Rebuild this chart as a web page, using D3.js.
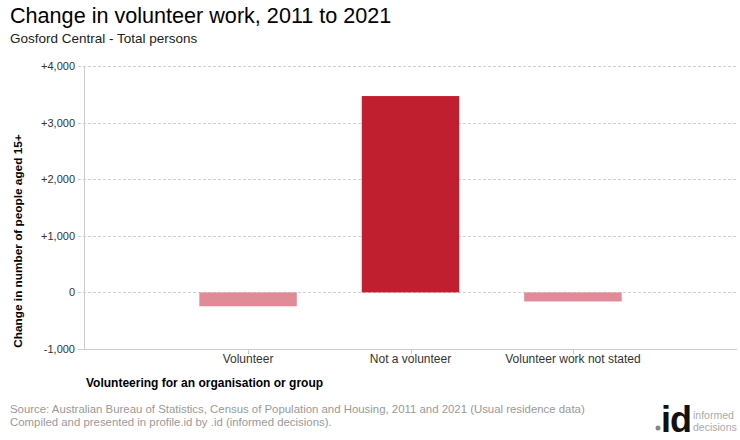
<!DOCTYPE html>
<html><head><meta charset="utf-8">
<script src="https://cdn.jsdelivr.net/npm/d3@7/dist/d3.min.js"></script>
<style>body{margin:0;background:#fff;} text{font-family:"Liberation Sans",Arial,sans-serif;}</style>
</head><body>
<svg id="c" width="740" height="440"></svg>
<script>
const categories = ["Volunteer", "Not a volunteer", "Volunteer work not stated"];
const changes = [-245, 3469, -160];
const barColors = ["#e18a98", "#c01f2f", "#e18a98"];
const yTicks = [-1000, 0, 1000, 2000, 3000, 4000];
const yTickLabels = ["-1,000", "0", "+1,000", "+2,000", "+3,000", "+4,000"];

const svg = d3.select("#c");
const pL = 84, pR = 737, pT = 66, pB = 349;

const x = d3.scaleBand().domain(categories).range([pL, pR]).paddingInner(0.4).paddingOuter(0.71);
const y = d3.scaleLinear().domain([-1000, 4000]).range([pB, pT]);

// gridlines
svg.append("g").selectAll("line").data(yTicks.filter(d => d !== -1000)).join("line")
  .attr("x1", pL - 6).attr("x2", pR).attr("y1", d => Math.round(y(d)) + 0.5).attr("y2", d => Math.round(y(d)) + 0.5)
  .attr("stroke", "#cfcfcf").attr("stroke-dasharray", "3,2");
svg.append("line").attr("x1", pL - 6).attr("x2", pL).attr("y1", pB + 0.5).attr("y2", pB + 0.5).attr("stroke", "#cfcfcf");

// bars
svg.append("g").selectAll("rect").data(categories).join("rect")
  .attr("x", d => x(d)).attr("width", x.bandwidth())
  .attr("y", (d, i) => y(Math.max(0, changes[i])))
  .attr("height", (d, i) => Math.abs(y(changes[i]) - y(0)))
  .attr("fill", (d, i) => barColors[i]);

// axis lines
svg.append("line").attr("x1", pL + 0.5).attr("x2", pL + 0.5).attr("y1", pT).attr("y2", pB + 1).attr("stroke", "#cccccc");
svg.append("line").attr("x1", pL).attr("x2", pR).attr("y1", pB + 0.5).attr("y2", pB + 0.5).attr("stroke", "#cccccc");

// x ticks
svg.append("g").selectAll("line").data(categories).join("line")
  .attr("x1", d => Math.round(x(d) + x.bandwidth() / 2) + 0.5).attr("x2", d => Math.round(x(d) + x.bandwidth() / 2) + 0.5)
  .attr("y1", pB).attr("y2", pB + 5).attr("stroke", "#cccccc");
svg.append("g").selectAll("text").data(categories).join("text")
  .attr("x", d => x(d) + x.bandwidth() / 2).attr("y", 363).attr("text-anchor", "middle")
  .attr("font-size", 12).attr("fill", "#333").text(d => d);

// y tick labels
svg.append("g").selectAll("text").data(yTicks).join("text")
  .attr("x", 75).attr("y", d => y(d) + 4).attr("text-anchor", "end")
  .attr("font-size", 11).attr("fill", "#333").text((d, i) => yTickLabels[i]);

// titles
svg.append("text").attr("x", 10).attr("y", 23).attr("font-size", 21.6).attr("fill", "#000").text("Change in volunteer work, 2011 to 2021");
svg.append("text").attr("x", 10).attr("y", 43).attr("font-size", 13.5).attr("fill", "#222").text("Gosford Central - Total persons");

// axis titles
svg.append("text").attr("x", 86).attr("y", 387).attr("font-size", 12).attr("font-weight", "bold").attr("fill", "#000")
  .text("Volunteering for an organisation or group");
svg.append("text").attr("transform", "translate(22,241) rotate(-90)").attr("text-anchor", "middle")
  .attr("font-size", 11.8).attr("font-weight", "bold").attr("fill", "#000").text("Change in number of people aged 15+");

// source
svg.append("text").attr("x", 10).attr("y", 413).attr("font-size", 11.4).attr("fill", "#999")
  .text("Source: Australian Bureau of Statistics, Census of Population and Housing, 2011 and 2021 (Usual residence data)");
svg.append("text").attr("x", 10).attr("y", 426).attr("font-size", 11.4).attr("fill", "#999")
  .text("Compiled and presented in profile.id by .id (informed decisions).");

// logo
svg.append("circle").attr("cx", 658).attr("cy", 428).attr("r", 2.5).attr("fill", "#888");
svg.append("text").attr("x", 661).attr("y", 432).attr("font-size", 36).attr("font-weight", "bold").attr("fill", "#111")
  .attr("letter-spacing", -1).text("id");
svg.append("text").attr("x", 693).attr("y", 419).attr("font-size", 10.5).attr("fill", "#aaa").text("informed");
svg.append("text").attr("x", 693).attr("y", 431).attr("font-size", 10.5).attr("fill", "#aaa").text("decisions");
</script>
</body></html>
